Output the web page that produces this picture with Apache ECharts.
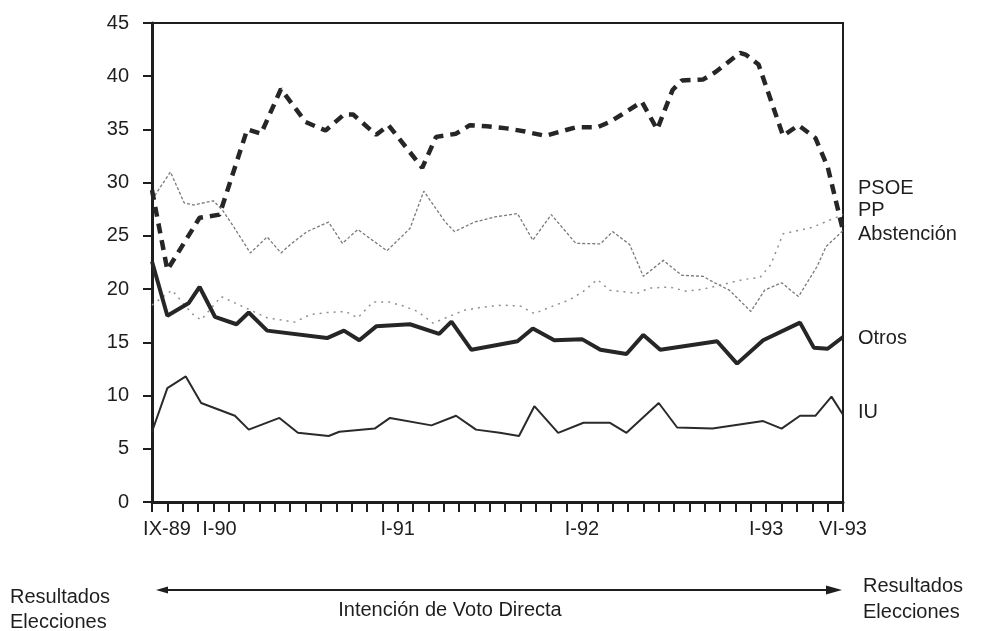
<!DOCTYPE html>
<html>
<head>
<meta charset="utf-8">
<script src="https://cdn.jsdelivr.net/npm/echarts@6/dist/echarts.min.js"></script>
<style>
  html, body { margin: 0; padding: 0; background: #fff; }
  #chart { width: 986px; height: 631px; }
</style>
</head>
<body>
<div id="chart"></div>
<script>
// months counted from IX-89 (0) to VI-93 (45), value = % of the electorate
const monthLabels = { 0: 'IX-89', 4: 'I-90', 16: 'I-91', 28: 'I-92', 40: 'I-93', 45: 'VI-93' };
const yTicks = [0, 5, 10, 15, 20, 25, 30, 35, 40, 45];

const psoe = [[0, 29.3], [1.0, 21.8], [3.1, 26.7], [4.4, 27.0], [6.2, 35.0], [7.1, 34.6], [8.4, 38.8],
  [10.0, 35.7], [11.3, 34.9], [12.5, 36.4], [13.1, 36.4], [14.6, 34.5], [15.4, 35.4], [17.6, 31.4],
  [18.5, 34.3], [19.8, 34.6], [20.7, 35.4], [21.8, 35.3], [23.1, 35.1], [24.3, 34.8], [25.6, 34.4],
  [26.6, 34.8], [27.6, 35.2], [29.0, 35.2], [29.8, 35.7], [30.6, 36.4], [31.9, 37.6], [32.9, 35.0],
  [33.9, 38.7], [34.5, 39.6], [35.9, 39.7], [36.7, 40.4], [38.3, 42.2], [38.7, 42.0], [39.5, 41.1],
  [41.1, 34.4], [42.1, 35.4], [43.2, 34.2], [44.0, 31.5], [45, 25.5]];

const pp = [[0, 18.5], [1.3, 19.9], [2.6, 17.7], [3.2, 17.1], [4.5, 19.3], [7.5, 17.3], [9.3, 16.9],
  [10.3, 17.6], [11.4, 17.8], [12.6, 17.9], [13.4, 17.3], [14.4, 18.8], [15.4, 18.8], [16.4, 18.4],
  [17.3, 17.9], [18.3, 16.8], [20.3, 18.0], [21.5, 18.3], [22.8, 18.5], [24.0, 18.4], [24.9, 17.7],
  [26.1, 18.4], [27.2, 19.0], [28.1, 19.8], [29.0, 20.9], [29.8, 19.9], [31.6, 19.6], [32.4, 20.1],
  [33.7, 20.2], [34.8, 19.8], [35.9, 20.0], [38.5, 20.9], [39.6, 21.1], [40.3, 22.3], [41.1, 25.2],
  [43.0, 25.8], [45, 27.0]];

const abstencion = [[0, 28.4], [1.2, 31.0], [2.1, 28.1], [2.7, 27.9], [4.0, 28.3], [4.6, 27.4],
  [5.3, 25.9], [6.4, 23.4], [7.5, 24.9], [8.4, 23.4], [9.1, 24.3], [10.1, 25.4], [11.5, 26.3],
  [12.4, 24.3], [13.4, 25.6], [15.3, 23.6], [16.8, 25.7], [17.7, 29.2], [19.1, 26.3], [19.7, 25.4],
  [21.0, 26.3], [22.4, 26.8], [23.8, 27.1], [24.8, 24.6], [26.0, 27.0], [27.6, 24.3], [29.2, 24.25],
  [30.0, 25.4], [31.1, 24.2], [32.0, 21.2], [33.3, 22.7], [34.5, 21.3], [35.9, 21.2], [36.5, 20.7],
  [37.6, 19.9], [39.0, 17.9], [39.9, 19.9], [41.0, 20.6], [42.1, 19.3], [43.3, 22.1], [43.9, 24.0],
  [45, 25.5]];

const otros = [[0, 22.6], [1.0, 17.5], [2.4, 18.7], [3.1, 20.2], [4.1, 17.4], [5.5, 16.7], [6.3, 17.8],
  [7.5, 16.1], [11.4, 15.4], [12.5, 16.1], [13.5, 15.2], [14.6, 16.5], [16.8, 16.7], [18.7, 15.8],
  [19.5, 16.95], [20.8, 14.3], [23.8, 15.1], [24.8, 16.3], [26.2, 15.2], [28.0, 15.3], [29.2, 14.3],
  [30.9, 13.9], [32.0, 15.7], [33.1, 14.3], [36.8, 15.1], [38.1, 13.0], [39.8, 15.2], [42.2, 16.85],
  [43.1, 14.5], [44.0, 14.4], [45, 15.5]];

const iu = [[0, 6.6], [1.0, 10.7], [2.2, 11.8], [3.2, 9.3], [5.4, 8.1], [6.3, 6.8], [8.3, 7.9],
  [9.5, 6.5], [11.5, 6.2], [12.2, 6.6], [14.5, 6.9], [15.5, 7.9], [18.2, 7.2], [19.8, 8.1],
  [21.1, 6.8], [22.65, 6.5], [23.9, 6.2], [24.9, 9.0], [26.45, 6.5], [28.1, 7.45], [29.8, 7.45],
  [30.9, 6.5], [33.0, 9.3], [34.2, 7.0], [36.5, 6.9], [39.8, 7.6], [41.0, 6.9], [42.2, 8.1],
  [43.2, 8.1], [44.25, 9.9], [45, 8.2]];

// names shown at the right side, with the level each one is written at
const seriesNames = ['PSOE', 'PP', 'Abstención', 'Otros', 'IU'];
const nameLevels = [29.5, 27.4, 25.1, 15.4, 8.4];

var dom = document.getElementById('chart');
var myChart = echarts.init(dom, null, { renderer: 'canvas' });

const font = 'Liberation Sans, Arial, sans-serif';
const ink = '#1e1e1e';
const fs = 20;

var option = {
  animation: false,
  backgroundColor: '#fff',
  grid: {
    left: 152, right: 143, top: 23, bottom: 129,
    show: true, borderColor: ink, borderWidth: 2, backgroundColor: 'transparent'
  },
  xAxis: {
    type: 'value',
    min: 0, max: 45, interval: 1,
    axisLine: { lineStyle: { color: ink, width: 3 } },
    axisTick: { show: true, length: 10, lineStyle: { color: ink, width: 2 } },
    splitLine: { show: false },
    axisLabel: {
      margin: 17,
      showMinLabel: true, showMaxLabel: true,
      color: ink, fontFamily: font, fontSize: fs,
      formatter: function (v) {
        var txt = monthLabels[v];
        if (!txt) return '';
        if (v === 0) return '{a|' + txt + '}';
        if (v === 4) return '{b|' + txt + '}';
        return txt;
      },
      rich: {
        a: { padding: [0, 0, 0, 30], fontSize: fs, fontFamily: font, color: ink },
        b: { padding: [0, 0, 0, 12], fontSize: fs, fontFamily: font, color: ink }
      }
    }
  },
  yAxis: {
    type: 'value',
    min: 0, max: 45, interval: 5,
    axisLine: { show: true, lineStyle: { color: ink, width: 3 } },
    axisTick: { show: true, length: 9, lineStyle: { color: ink, width: 2 } },
    splitLine: { show: false },
    axisLabel: {
      margin: 23, color: ink, fontFamily: font, fontSize: fs,
      formatter: function (v) { return yTicks.indexOf(v) >= 0 ? String(v) : ''; }
    }
  },
  series: [
    {
      name: 'Abstención', type: 'line', data: abstencion, showSymbol: false, z: 2,
      lineStyle: { color: '#7a7a7a', width: 1.3, type: [3, 2] }
    },
    {
      name: 'PP', type: 'line', data: pp, showSymbol: false, z: 2,
      lineStyle: { color: '#909090', width: 1.5, type: [2, 5] }
    },
    {
      name: 'IU', type: 'line', data: iu, showSymbol: false, z: 3,
      lineStyle: { color: '#2a2a2a', width: 2 }
    },
    {
      name: 'Otros', type: 'line', data: otros, showSymbol: false, z: 4,
      lineStyle: { color: '#262626', width: 4 }
    },
    {
      name: 'PSOE', type: 'line', data: psoe, showSymbol: false, z: 5,
      lineStyle: { color: '#262626', width: 4.5, type: [10, 7], cap: 'butt' }
    }
  ]
};

myChart.setOption(option);

// right-hand names and the bottom arrow with its captions
var graphics = [];
seriesNames.forEach(function (name, i) {
  var p = myChart.convertToPixel({ gridIndex: 0 }, [45, nameLevels[i]]);
  graphics.push({
    type: 'text', x: p[0] + 15, y: p[1],
    style: {
      text: name, fill: ink, font: fs + 'px ' + font,
      textAlign: 'left', textVerticalAlign: 'middle', align: 'left', verticalAlign: 'middle'
    }
  });
});

var arrowY = 590;
graphics.push(
  { type: 'line', shape: { x1: 162, y1: arrowY, x2: 830, y2: arrowY }, style: { stroke: ink, lineWidth: 2 } },
  { type: 'polygon', shape: { points: [[156, arrowY], [168, arrowY - 3.5], [168, arrowY + 3.5]] }, style: { fill: ink } },
  { type: 'polygon', shape: { points: [[842, arrowY], [826, arrowY - 4.5], [826, arrowY + 4.5]] }, style: { fill: ink } }
);

function caption(txt, x, y, align) {
  return {
    type: 'text', x: x, y: y,
    style: {
      text: txt, fill: ink, font: fs + 'px ' + font,
      textAlign: align, textVerticalAlign: 'middle', align: align, verticalAlign: 'middle'
    }
  };
}
graphics.push(
  caption('Resultados', 10, 597, 'left'),
  caption('Elecciones', 10, 622, 'left'),
  caption('Intención de Voto Directa', 450, 610, 'center'),
  caption('Resultados', 863, 586, 'left'),
  caption('Elecciones', 863, 612, 'left')
);

myChart.setOption({ graphic: { elements: graphics } });

window.addEventListener('resize', myChart.resize);
</script>
</body>
</html>
